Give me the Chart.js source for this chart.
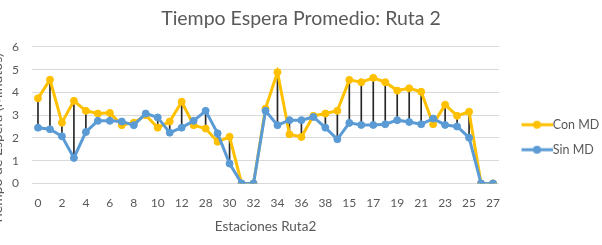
<!DOCTYPE html>
<html>
<head>
<meta charset="utf-8">
<script src="https://cdn.jsdelivr.net/npm/chart.js@4"></script>
<style>
  html, body { margin: 0; padding: 0; background: #fff; }
  #wrap { position: relative; width: 602px; height: 245px; }
</style>
</head>
<body>
<div id="wrap"><canvas id="cv"></canvas></div>
<script>
// stations in route order
const stations = ['0','1','2','3','4','5','6','7','8','9','10','11','12','13',
  '28','29','30','31','32','33','34','35','36','37','38',
  '14','15','16','17','18','19','20','21','22','23','24','25','26','27'];
const conMD = [3.74, 4.56, 2.67, 3.63, 3.19, 3.07, 3.10, 2.56, 2.67, 3.00, 2.45, 2.72, 3.59, 2.56,
  2.41, 1.83, 2.05, 0, 0, 3.29, 4.89, 2.16, 2.04, 2.97, 3.07,
  3.19, 4.55, 4.45, 4.64, 4.45, 4.08, 4.18, 4.03, 2.60, 3.46, 2.97, 3.15, 0, 0];
const sinMD = [2.45, 2.38, 2.07, 1.12, 2.26, 2.75, 2.75, 2.72, 2.56, 3.07, 2.90, 2.23, 2.45, 2.75,
  3.19, 2.20, 0.87, 0, 0, 3.19, 2.56, 2.78, 2.78, 2.92, 2.45,
  1.94, 2.66, 2.57, 2.57, 2.60, 2.78, 2.70, 2.60, 2.85, 2.57, 2.50, 2.01, 0, 0];
const yTicks = [0, 1, 2, 3, 4, 5, 6];

const ORANGE = '#FFC000', BLUE = '#5B9BD5', TXT = '#595959';
const FONT = 'Lato, "Open Sans", sans-serif';

// high-low lines between both series
const hiLo = stations.map((_, i) => [Math.min(conMD[i], sinMD[i]), Math.max(conMD[i], sinMD[i])]);

// legend symbol: line with a marker, pushed to the right end of the image
function legendIcon(color) {
  const c = document.createElement('canvas');
  c.width = 47; c.height = 10;
  const g = c.getContext('2d');
  g.strokeStyle = color; g.lineWidth = 3;
  g.beginPath(); g.moveTo(16, 5); g.lineTo(47, 5); g.stroke();
  g.fillStyle = color;
  g.beginPath(); g.arc(31.5, 5, 4, 0, Math.PI * 2); g.fill();
  return c;
}

// y title is cut off at the left edge in the original, so it is drawn by hand
const yTitle = {
  id: 'yTitle',
  afterDraw(chart) {
    const ctx = chart.ctx;
    ctx.save();
    ctx.translate(1.5, 139);
    ctx.rotate(-Math.PI / 2);
    ctx.font = '14px ' + FONT;
    ctx.fillStyle = TXT;
    ctx.textAlign = 'center';
    ctx.textBaseline = 'alphabetic';
    ctx.fillText('Tiempo de Espera (Minutos)', 0, 0);
    ctx.restore();
  }
};

new Chart(document.getElementById('cv'), {
  type: 'line',
  data: {
    labels: stations,
    datasets: [
      { label: 'Con MD', data: conMD, borderColor: ORANGE, backgroundColor: ORANGE, borderWidth: 3,
        pointRadius: 3.5, pointBorderWidth: 1, pointBackgroundColor: ORANGE, tension: 0, order: 2 },
      { label: 'Sin MD', data: sinMD, borderColor: BLUE, backgroundColor: BLUE, borderWidth: 3,
        pointRadius: 3.5, pointBorderWidth: 1, pointBackgroundColor: BLUE, tension: 0, order: 1 },
      { label: 'hilo', type: 'bar', data: hiLo, backgroundColor: '#262626', barThickness: 1, order: 3 },
    ],
  },
  options: {
    responsive: true,
    maintainAspectRatio: false,
    animation: false,
    layout: { padding: { left: 0, right: 0, top: 0, bottom: 10 } },
    plugins: {
      title: { display: true, text: 'Tiempo Espera Promedio: Ruta 2', color: TXT,
        font: { family: FONT, size: 19.5, weight: 'normal' }, padding: { top: 7, bottom: 16.5 } },
      legend: {
        position: 'right',
        maxWidth: 103,
        // empty title only used to push the entries down like in the original
        title: { display: true, text: '', padding: { top: 0, bottom: 25 } },
        labels: {
          color: TXT, font: { family: FONT, size: 12.5 }, usePointStyle: true, pointStyleWidth: 35,
          padding: 12.5,
          generateLabels: chart => chart.data.datasets.slice(0, 2).map((ds, i) => ({
            text: ds.label, fillStyle: ds.borderColor, strokeStyle: ds.borderColor,
            pointStyle: legendIcon(ds.borderColor), lineWidth: 0, datasetIndex: i, fontColor: TXT,
          })),
        },
      },
      tooltip: { enabled: false },
    },
    scales: {
      x: {
        offset: true,
        grid: { display: false },
        border: { display: false },
        ticks: { color: TXT, font: { family: FONT, size: 12 }, autoSkip: false, maxRotation: 0, padding: 5,
          callback: (v, i) => (i % 2 === 0 ? stations[i] : '') },
        title: { display: true, text: 'Estaciones Ruta2', color: TXT, font: { family: FONT, size: 13.5 },
          padding: { top: 3, bottom: 0 } },
      },
      y: {
        min: 0, max: 6,
        afterFit: s => { s.width = 32; },
        afterBuildTicks: s => { s.ticks = yTicks.map(v => ({ value: v })); },
        grid: { color: '#d9d9d9', lineWidth: 1, drawTicks: false },
        border: { display: false },
        ticks: { color: TXT, font: { family: FONT, size: 12 }, padding: 13 },
      },
    },
  },
  plugins: [yTitle],
});
</script>
</body>
</html>
